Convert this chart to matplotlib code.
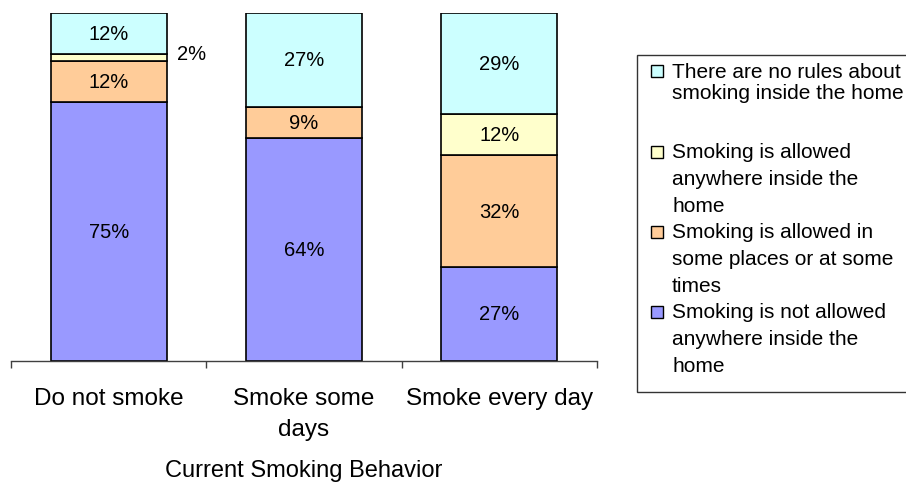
import numpy as np
import matplotlib
matplotlib.use("Agg")
import matplotlib.pyplot as plt
from matplotlib.patches import Rectangle

plt.rcParams['font.family'] = ['Liberation Sans', 'DejaVu Sans']

# Smoking behaviour groups (x axis)
behaviors = ['Do not smoke', 'Smoke some\ndays', 'Smoke every day']

# Home smoking rules, stacked bottom -> top (percent of respondents)
not_allowed = [75, 64, 27]
allowed_some = [12, 9, 32]
allowed_anywhere = [2, 0, 12]
no_rules = [12, 27, 29]

rule_names = [
    'Smoking is not allowed\nanywhere inside the\nhome',
    'Smoking is allowed in\nsome places or at some\ntimes',
    'Smoking is allowed\nanywhere inside the\nhome',
    'There are no rules about\nsmoking inside the home',
]
rule_colors = ['#9999FF', '#FFCC99', '#FFFFCC', '#CCFFFF']

W, H = 906, 485
fig = plt.figure(figsize=(W / 100, H / 100), dpi=100)
ax = fig.add_axes([11 / W, 1 - 362 / H, (597 - 11) / W, (362 - 13.5) / H])

series = np.array([not_allowed, allowed_some, allowed_anywhere, no_rules], dtype=float)
totals = series.sum(axis=0)
shares = series / totals * 100  # each bar fills the full 100% height

x = np.arange(len(behaviors))
bar_w = 0.594
bottom = np.zeros(len(behaviors))
for vals, shr, col in zip(series, shares, rule_colors):
    ax.bar(x, shr, bar_w, bottom=bottom, color=col, edgecolor='black', linewidth=1.2)
    for xi, v, s, b in zip(x, vals, shr, bottom):
        if v <= 0:
            continue
        if s < 5:
            # too thin for an inside label, put it beside the bar
            ax.annotate(f'{v:.0f}%', xy=(xi + bar_w / 2, b + s / 2), xytext=(18, 3),
                        textcoords='offset points', ha='center', va='center', fontsize=14.5)
        else:
            ax.text(xi, b + s / 2, f'{v:.0f}%', ha='center', va='center', fontsize=14.5)
    bottom += shr

ax.set_xlim(-0.5, len(behaviors) - 0.5)
ax.set_ylim(0, 100)
for side in ['left', 'right', 'top']:
    ax.spines[side].set_visible(False)
ax.spines['bottom'].set_color('#404040')
ax.spines['bottom'].set_linewidth(1.0)
ax.set_yticks([])
ax.set_xticks(x)
ax.set_xticklabels(behaviors, fontsize=17.5, linespacing=1.5)
ax.tick_params(axis='x', which='major', length=0, pad=19)
ax.set_xticks(np.arange(len(behaviors) + 1) - 0.5, minor=True)
ax.tick_params(axis='x', which='minor', length=5, width=1.0, color='#404040', direction='out')
ax.set_xlabel('Current Smoking Behavior', fontsize=17, labelpad=14)

# legend box, top entry first
fig.patches.append(Rectangle((637 / W, 1 - 393 / H), 0.5, (393 - 56) / H,
                             transform=fig.transFigure, facecolor='white',
                             edgecolor='#333333', linewidth=1.0))
first_line_y = [72, 153, 233, 313]
line_step = [21.7, 26.7, 26.7, 26.7]
for name, col, y0, step in zip(rule_names[::-1], rule_colors[::-1], first_line_y, line_step):
    fig.patches.append(Rectangle((651 / W, 1 - (y0 + 6) / H), 12 / W, 12 / H,
                                 transform=fig.transFigure, facecolor=col,
                                 edgecolor='black', linewidth=1.0))
    for i, line in enumerate(name.split('\n')):
        fig.text(672 / W, 1 - (y0 + i * step) / H, line, fontsize=15,
                 ha='left', va='center')

fig.savefig('out.png', dpi=100)
